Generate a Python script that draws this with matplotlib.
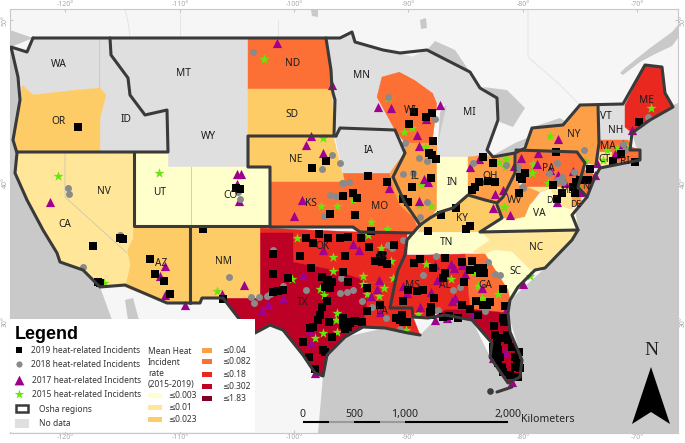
import matplotlib
matplotlib.use("Agg")
import matplotlib.pyplot as plt
from matplotlib.patches import Polygon, Rectangle

plt.rcParams['font.family'] = ['Noto Sans', 'DejaVu Sans']

# colour classes
C1, C2, C3, C4, C5, C6, C7, C8 = '#ffffcc', '#ffe699', '#fecc66', '#fd9f47', '#fc6f35', '#e9291f', '#bd0026', '#800026'
NO_DATA = '#dfdfdf'
WATER = '#c9c9c9'
LINE = '#3a3a3a'

# everything below is in map units (x right, y down)
states = {
    'WA': (NO_DATA, [(11,47),(27,52),(32,40),(33,38),(100,38),(100,88),(77,90),(33,95),(22,85),(18,77)]),
    'ID': (NO_DATA, [(99,38),(110,38),(111,55),(128,78),(130,95),(145,115),(167,110),(167,152),(100,152),(100,118),(106,95),(100,88)]),
    'MT': (NO_DATA, [(110,38),(248,38),(248,105),(168,105),(167,110),(145,115),(130,95),(128,78),(111,55)]),
    'OR': (C3, [(22,85),(33,95),(77,90),(100,88),(106,95),(100,118),(100,152),(15,152),(13,140),(20,100)]),
    'WY': (NO_DATA, [(168,105),(248,105),(248,167),(168,167)]),
    'ND': (C5, [(248,38),(326,38),(331,70),(332,89),(248,89)]),
    'SD': (C3, [(248,89),(332,89),(335,100),(334,140),(310,136),(248,136)]),
    'NE': (C3, [(248,136),(310,136),(334,140),(343,175),(345,182),(270,182),(270,167),(248,167)]),
    'KS': (C5, [(270,182),(345,182),(348,195),(352,227),(270,227)]),
    'MO': (C5, [(343,173),(390,173),(394,190),(400,205),(413,217),(418,228),(413,233),(360,232),(350,227),(345,182)]),
    'IA': (NO_DATA, [(334,128),(395,130),(397,140),(405,153),(397,163),(390,173),(343,173),(336,140)]),
    'MN': (NO_DATA, [(328,38),(340,38),(352,32),(355,42),(383,50),(400,53),(412,57),(400,72),(382,77),(377,97),(395,130),(334,128),(332,89)]),
    'WI': (C5, [(382,77),(400,72),(415,80),(433,93),(437,103),(432,143),(405,143),(395,130),(377,97)]),
    'MI': (NO_DATA, [(400,72),(412,57),(427,50),(470,72),(480,88),(497,98),(498,120),(487,150),(493,157),(438,157),(438,143),(447,105),(437,103),(433,93),(415,80)]),
    'IL': (C4, [(405,143),(437,143),(437,210),(430,218),(420,228),(413,217),(400,205),(394,190),(390,173),(397,163),(405,153)]),
    'IN': (C1, [(437,157),(468,157),(468,195),(453,208),(440,212),(430,218),(437,210)]),
    'OH': (C4, [(468,157),(485,155),(493,157),(515,153),(515,173),(503,197),(497,203),(485,200),(468,195)]),
    'KY': (C3, [(418,232),(422,225),(440,212),(453,208),(468,195),(485,200),(497,205),(502,218),(480,232)]),
    'TN': (C1, [(410,233),(482,232),(490,240),(473,252),(405,254)]),
    'NC': (C2, [(482,232),(578,230),(572,240),(545,268),(535,270),(530,270),(512,252),(495,250),(485,254),(473,252),(490,240)]),
    'SC': (C1, [(485,254),(495,250),(512,252),(530,270),(535,270),(518,287),(510,300),(508,290)]),
    'GA': (C5, [(465,254),(485,254),(508,290),(510,300),(508,313),(470,309)]),
    'AL': (C6, [(428,255),(465,254),(470,309),(445,310),(432,315),(428,318)]),
    'MS': (C6, [(407,255),(428,255),(428,318),(413,317),(412,308),(390,308),(395,283),(398,270)]),
    'LA': (C6, [(365,282),(395,283),(390,308),(412,308),(413,317),(420,335),(408,333),(385,328),(363,327),(367,300)]),
    'AR': (C6, [(358,232),(407,234),(407,255),(398,270),(395,283),(365,282),(358,278)]),
    'OK': (C6, [(260,228),(358,232),(358,278),(333,270),(293,262),(293,233),(260,233)]),
    'TX': (C7, [(260,233),(293,233),(293,262),(333,270),(358,278),(365,282),(367,300),(363,327),(345,337),(327,355),(323,376),(315,373),(303,355),(283,330),(270,325),(255,333),(240,320),(223,298),(260,298)]),
    'NM': (C3, [(190,227),(260,228),(260,298),(223,298),(202,298),(200,303),(190,303)]),
    'AZ': (C3, [(133,228),(190,228),(190,303),(167,303),(125,287),(130,265),(127,250),(133,238)]),
    'CA': (C2, [(17,152),(133,152),(133,238),(127,250),(130,265),(125,287),(100,287),(83,270),(60,262),(57,253),(43,230),(27,200),(15,173)]),
    'UT': (C1, [(134,153),(168,153),(168,167),(191,167),(191,226),(134,226)]),
    'CO': (C1, [(191,167),(270,167),(270,226),(191,226)]),
    'NY': (C4, [(525,150),(532,128),(563,125),(580,105),(598,105),(599,143),(596,165),(585,163),(577,152)]),
    'PA': (C5, [(516,150),(525,150),(577,152),(585,163),(580,175),(578,187),(525,187),(517,177)]),
    'WV': (C4, [(503,197),(516,172),(520,187),(550,188),(540,192),(530,205),(525,217),(512,220),(500,218),(497,205)]),
    'VA': (C1, [(480,232),(502,218),(512,220),(525,217),(530,205),(550,188),(560,205),(575,210),(578,230)]),
    'MD': (C2, [(528,187),(580,187),(577,197),(572,210),(560,205),(550,188),(540,192)]),
    'DE': (C4, [(572,190),(580,190),(582,205),(572,206)]),
    'NJ': (C5, [(582,170),(590,170),(595,177),(587,197),(578,187),(583,175)]),
    'VT': (NO_DATA, [(598,105),(612,105),(609,140),(600,140)]),
    'NH': (NO_DATA, [(612,105),(625,105),(625,127),(632,133),(628,140),(609,140)]),
    'ME': (C6, [(625,105),(645,65),(662,67),(665,93),(673,107),(650,120),(632,133),(625,127)]),
    'MA': (C5, [(600,140),(628,140),(632,147),(640,150),(640,155),(630,154),(600,152)]),
    'CT': (C2, [(598,152),(612,152),(612,163),(598,167)]),
    'RI': (C5, [(612,152),(640,155),(640,160),(612,163)]),
    'FL': (C7, [(433,317),(445,310),(470,309),(508,313),(510,332),(522,360),(520,377),(508,383),(490,357),(492,343),(472,320),(458,318)]),
}

water_polys = [
    [(10,30),(33,38),(11,47),(18,77),(20,100),(13,140),(17,153),(15,173),(27,200),(43,230),(57,253),(60,262),(83,270),(100,287),(112,320),(10,320)],
    [(678,103),(665,108),(650,120),(632,133),(640,160),(600,168),(587,197),(572,215),(578,230),(545,268),(510,300),(508,313),(522,360),(520,377),(508,383),(490,357),(472,320),(445,310),(420,335),(385,328),(345,337),(327,355),(323,376),(318,433),(678,433)],
    [(125,300),(133,298),(139,320),(128,320)],
    [(427,50),(435,41),(455,50),(470,72)],
    [(400,72),(412,57),(403,62)],
    [(438,143),(440,112),(447,103),(446,120),(441,145)],
    [(483,87),(507,90),(525,108),(513,127),(500,122),(497,98)],
    [(490,157),(515,143),(527,138),(527,143),(515,153)],
    [(530,128),(560,118),(566,122),(563,125),(532,130)],
    [(678,25),(672,32),(650,48),(625,68),(620,73),(623,75),(640,62),(655,54),(672,46),(678,38)],
    [(311,10),(318,10),(318,17),(312,16)],
    [(420,20),(426,18),(427,28),(421,29)],
    [(568,190),(572,200),(570,222),(566,215)],
]

canada_lines = [[(180,9),(180,38)], [(278,20),(278,38)], [(125,9),(128,22),(130,36)], [(528,9),(528,57),(560,85),(580,105)]]
state_lines = [[(65,152),(65,197),(127,253)], [(191,167),(191,226)], [(99,38),(99,88)]]

# thick region outlines
regions = [
    [(33,38),(27,52),(11,47),(18,77),(20,100),(13,140),(17,153),(15,173),(27,200),(43,230),(57,253),(60,262),(83,270),(100,287),(125,285),(167,303),(190,303),(200,303),(202,298),(223,298),(240,320),(255,333),(270,325),(283,330),(303,355),(315,373),(323,376),(327,355),(345,337),(363,327),(385,328),(408,333),(420,335)],
    [(33,38),(340,38),(352,32),(355,42),(383,50),(400,53),(427,50),(470,72),(480,88),(497,98),(498,120),(487,150),(493,157),(515,153),(515,173),(503,197),(497,203),(485,200),(468,195),(453,208),(440,212),(430,218),(420,225),(412,213),(405,203),(393,177),(405,153),(395,130),(340,128),(336,136),(248,136),(248,167),(270,167),(270,227),(353,227),(360,232),(413,233),(420,225)],
    [(110,38),(111,55),(128,78),(130,95),(145,115),(167,110),(168,152),(17,152)],
    [(134,152),(134,226),(270,226)],
    [(190,226),(190,303)],
    [(326,38),(331,70),(332,89),(335,100),(334,135),(336,136)],
    [(413,233),(407,240),(405,255),(398,270),(395,283),(390,308),(412,308),(413,317),(428,318),(445,315),(472,320),(492,343),(490,357),(508,383),(520,377),(522,360),(510,332),(508,313),(510,300),(518,287),(535,270),(545,268),(572,240),(578,230),(572,215),(587,197),(595,177),(600,168),(640,160),(640,150),(630,150),(632,133),(650,120),(673,107),(665,93),(662,67),(645,65),(623,104),(580,105),(563,125),(532,128),(525,148),(515,153)],
    [(497,205),(502,218),(480,232),(578,230)],
    [(516,150),(577,152),(585,163),(578,187),(587,197)],
    [(598,105),(599,143),(596,165)],
    [(497,392),(512,387)],
]

# 2019 incidents
pts_2019 = [(78,127),(326,161),(312,168),(236,188),(240,189),(343,196),(330,214),(93,246),(120,238),(123,239),(100,283),(98,282),(150,259),(155,274),(164,281),(170,294),(203,229),(223,299),
    (433,141),(429,153),(432,155),(436,159),(431,178),(412,187),(368,176),(387,182),(353,193),(357,198),(355,215),(403,199),(408,202),(456,208),(441,215),(428,231),(466,229),(470,226),(472,190),(475,187),(479,182),(483,157),(493,163),(488,181),(495,182),(371,231),(361,238),(348,237),(340,238),(394,245),(369,247),
    (414,112),(426,117),(432,113),(409,124),(639,122),(556,152),(520,177),(525,173),(522,179),(519,193),(553,185),(562,193),(576,182),(573,187),(575,193),(590,169),(588,180),(580,180),(557,199),(621,154),(613,161),(635,162),
    (319,234),(306,238),(313,243),(328,238),(273,254),(300,256),(345,256),(311,268),(273,274),(288,278),(322,277),(343,272),(348,282),(328,280),(327,283),(332,282),(325,287),(330,288),(367,288),(273,292),(278,291),(283,290),(327,301),(322,307),(320,315),(318,320),(329,322),(313,327),(310,328),(343,318),(347,322),(343,325),(348,327),(345,329),(350,323),(355,321),(362,322),(367,311),(332,337),(303,342),(323,350),(325,352),(309,357),(315,369),(380,305),(403,301),(380,258),(375,261),(382,262),(387,264),(382,255),(396,318),(400,320),(403,322),(402,315),(407,322),
    (420,259),(414,263),(433,268),(445,258),(462,262),(472,261),(470,270),(478,268),(483,268),(480,273),(484,273),(445,273),(443,278),(464,282),(408,290),(417,291),(423,290),(434,298),(462,305),(476,301),(490,302),(483,305),(487,305),(470,309),(505,306),(431,307),(430,312),(431,315),(443,317),(449,316),(458,318),(478,315),(503,289),(494,326),(495,335),(503,318),(504,322),
    (497,343),(498,350),(500,357),(497,338),(508,340),(512,347),(515,357),(517,363),(502,338),(507,335),(502,367),(515,367),(518,377),(493,347),(498,363),(503,372),(510,375),(520,368),(519,352),(493,355)]

# 2018 incidents
pts_2018 = [(253,52),(68,188),(69,194),(332,155),(322,169),(340,163),(342,183),(330,195),(336,196),(324,216),(240,199),(238,192),
    (388,97),(435,119),(405,143),(419,158),(427,161),(413,173),(403,174),(473,163),(506,165),(518,167),(522,187),(557,163),(584,150),(549,173),(623,144),(625,150),(648,117),(557,180),(560,180),(343,183),(349,182),(427,202),(420,217),
    (83,267),(229,277),(120,235),(251,297),(254,303),(259,297),(267,296),(270,294),(283,286),(306,290),(273,250),(341,278),(347,282),(340,293),(347,292),(353,290),(362,301),(372,307),(386,318),(400,329),(388,245),(392,248),(403,240),(436,256),(423,275),(438,310),(453,290),(460,287),(488,262),(495,274),(500,275),(504,318),(485,311),
    (562,177),(558,180),(563,182),(555,183),(574,172),(523,188),(520,172)]

# 2017 incidents
pts_2017 = [(277,43),(332,85),(311,136),(306,145),(323,153),(237,174),(241,174),(237,184),(239,201),(50,202),(302,200),(294,216),
    (378,107),(391,108),(440,105),(426,119),(417,135),(419,146),(424,179),(428,182),(389,188),(419,201),(470,167),(479,159),(485,180),(495,194),(503,190),(521,158),(538,153),(537,164),(558,139),(514,166),(573,171),(558,175),(550,170),(510,215),(493,208),(632,130),(623,144),(615,154),(597,163),(595,175),(580,192),(557,202),(565,183),
    (185,305),(165,266),(160,276),(165,295),(244,285),(222,294),(262,310),(268,304),(283,298),(303,275),(353,244),(359,250),(323,250),(379,280),(377,289),(371,296),(403,286),(407,293),(420,307),(431,292),(435,265),(437,280),(451,264),(454,268),(465,274),(462,265),(452,301),(455,298),(482,288),(473,315),(435,320),(447,318),(311,343),(315,373),(523,284),(505,312),(310,331),(505,352),(512,382),(493,358),(380,312)]

# 2015 incidents
pts_2015 = [(264,59),(58,176),(159,173),(323,138),(321,206),(337,206),(388,98),(404,132),(412,128),(425,147),(421,185),(419,205),(431,206),(401,197),(353,200),(499,162),(506,159),(505,167),(550,136),(533,164),(532,173),(585,161),(548,183),(504,207),(607,150),(617,148),(626,146),(651,108),(580,190),(603,160),
    (217,291),(104,283),(292,279),(297,238),(333,257),(333,271),(320,289),(324,295),(337,313),(336,320),(323,333),(315,338),(337,332),(363,276),(363,284),(367,294),(368,235),(381,248),(391,261),(384,288),(379,296),(393,278),(406,330),(387,229),(371,222),(426,264),(451,279),(498,294),(482,298),(478,286),(418,314),(530,276),(473,272)]

state_labels = {
    'WA': (59,64), 'OR': (59,121), 'ID': (126,119), 'MT': (183,73), 'WY': (208,136), 'ND': (293,63), 'SD': (292,114), 'NE': (296,159),
    'UT': (160,192), 'CO': (230,195), 'NV': (104,191), 'CA': (65,224), 'AZ': (161,263), 'NM': (223,261), 'KS': (311,203), 'MN': (362,75),
    'WI': (410,110), 'IA': (369,150), 'MI': (469,112), 'IL': (415,176), 'IN': (452,182), 'OH': (490,176), 'MO': (380,206), 'KY': (462,218),
    'TN': (447,242), 'NC': (536,247), 'SC': (515,271), 'VA': (539,213), 'WV': (515,200), 'PA': (548,168), 'NY': (574,134), 'VT': (606,116),
    'NH': (616,130), 'ME': (646,100), 'MA': (608,146), 'CT': (604,159), 'RI': (625,161), 'MD': (567,190), 'DE': (576,204), 'DC': (552,200),
    'NJ': (587,186), 'TX': (303,302), 'OK': (322,246), 'AR': (381,256), 'LA': (382,311), 'MS': (412,285), 'AL': (445,285), 'GA': (485,285),
}

lon_ticks = [65, 180, 294, 408, 523, 637]
lon_labels = ['-120°', '-110°', '-100°', '-90°', '-80°', '-70°']
lat_ticks = [20, 182, 322]
lat_labels = ['50°', '40°', '30°']

incident_labels = ['2019 heat-related Incidents', '2018 heat-related Incidents', '2017 heat-related Incidents', '2015 heat-related Incidents']
rate_labels = ['≤0.003', '≤0.01', '≤0.023', '≤0.04', '≤0.082', '≤0.18', '≤0.302', '≤1.83']
rate_colors = [C1, C2, C3, C4, C5, C6, C7, C8]
scale_labels = ['0', '500', '1,000', '2,000']

fig = plt.figure(figsize=(6.85, 4.43), dpi=100)
ax = fig.add_axes([10/685, 1 - 433/443, 668/685, 424/443])
ax.set_xlim(10, 678)
ax.set_ylim(433, 9)
ax.set_facecolor('#f6f6f6')
for s in ax.spines.values():
    s.set_color('#c8c8c8')
    s.set_linewidth(0.8)

ax.set_xticks(lon_ticks, lon_labels)
ax.set_yticks(lat_ticks, lat_labels)
ax.tick_params(top=True, right=True, labeltop=True, labelright=True, direction='in', length=2,
               color='#c8c8c8', labelcolor='#a9a9a9', labelsize=5, pad=1)
for t in ax.get_yticklabels():
    t.set_rotation(90)
    t.set_va('center')

for poly in water_polys:
    ax.add_patch(Polygon(poly, closed=True, fc=WATER, ec='none', zorder=1))
for ln in canada_lines:
    ax.plot(*zip(*ln), color='#e2e2e2', lw=0.6, zorder=1.5)

for name, (col, poly) in states.items():
    ax.add_patch(Polygon(poly, closed=True, fc=col, ec=col, lw=0.3, zorder=2))
for ln in state_lines:
    ax.plot(*zip(*ln), color='#c9c9b0', lw=0.6, zorder=2.5)

ax.scatter(*zip(*pts_2015), marker='*', s=58, color='#66e60a', lw=0, zorder=3)
ax.scatter(*zip(*pts_2017), marker='^', s=44, color='#a00090', lw=0, zorder=3.1)
ax.scatter(*zip(*pts_2018), marker='o', s=25, color='#8a8a8a', lw=0, zorder=3.2)
ax.scatter(*zip(*pts_2019), marker='s', s=27, color='black', lw=0, zorder=3.3)

for ln in regions:
    ax.plot(*zip(*ln), color=LINE, lw=2.2, solid_joinstyle='round', solid_capstyle='round', zorder=4)
ax.scatter([490], [391], marker='o', s=14, color=LINE, zorder=4)

for name, (x, y) in state_labels.items():
    ax.text(x, y, name, fontsize=7.3 if name not in ('MD', 'DC', 'DE', 'NJ') else 6.3,
            color='#1c1c1c', ha='center', va='center', zorder=5)

# legend
ax.add_patch(Rectangle((10, 319), 245, 113, fc='white', ec='none', zorder=6))
ax.text(15, 334, 'Legend', fontsize=13, fontweight='bold', family='Liberation Sans', color='black', va='center', zorder=7)
rows_y = [350, 364, 380, 394]
text_x = [31, 31, 32, 32]
mark = [('s', 20, 'black'), ('o', 20, '#8a8a8a'), ('^', 50, '#a00090'), ('*', 50, '#66e60a')]
for y, tx, (m, sz, c), lab in zip(rows_y, text_x, mark, incident_labels):
    ax.scatter([19], [y], marker=m, s=sz, color=c, lw=0, zorder=7)
    ax.text(tx, y, lab, fontsize=6.1, color='#333333', va='center', zorder=7)
ax.add_patch(Rectangle((16, 405), 12, 7, fc='white', ec=LINE, lw=1.8, zorder=7))
ax.text(39, 409, 'Osha regions', fontsize=6.1, color='#333333', va='center', zorder=7)
ax.add_patch(Rectangle((15, 419), 14, 9, fc=NO_DATA, ec='none', zorder=7))
ax.text(39, 423, 'No data', fontsize=6.1, color='#333333', va='center', zorder=7)
for y, s in zip([351, 362, 373, 384], ['Mean Heat', 'Incident', 'rate', '(2015-2019)']):
    ax.text(148, y, s, fontsize=6.1, color='#333333', va='center', zorder=7)
swatch_pos = [(148, 395), (148, 407), (148, 419), (202, 350), (202, 361), (202, 374), (202, 386), (202, 398)]
for (x, y), c, lab in zip(swatch_pos, rate_colors, rate_labels):
    ax.add_patch(Rectangle((x, y - 2.5), 10 if x > 200 else 14, 5, fc=c, ec='none', zorder=7))
    ax.text(x + 20, y, lab, fontsize=6.1, color='#333333', va='center', zorder=7)

# scale bar
seg_edges = [303, 329, 354, 380, 405, 508]
seg_cols = ['black', '#9a9a9a', 'black', '#9a9a9a', 'black']
for x0, x1, c in zip(seg_edges[:-1], seg_edges[1:], seg_cols):
    ax.plot([x0, x1], [422, 422], color=c, lw=1.5, solid_capstyle='butt', zorder=5)
for x, lab in zip([303, 354, 405, 508], scale_labels):
    ax.text(x, 414, lab, fontsize=7.6, color='#222222', ha='center', va='center', zorder=5)
ax.text(521, 419, 'Kilometers', fontsize=7.6, color='#222222', va='center', zorder=5)

# north arrow
ax.add_patch(Polygon([(651,367),(670,424),(651,412),(632,424)], closed=True, fc='black', ec='none', zorder=5))
ax.text(651, 350, 'N', fontsize=14, family='Liberation Serif', color='#222222', ha='center', va='center', zorder=5)

fig.savefig('out.png', dpi=100)
plt.close()
